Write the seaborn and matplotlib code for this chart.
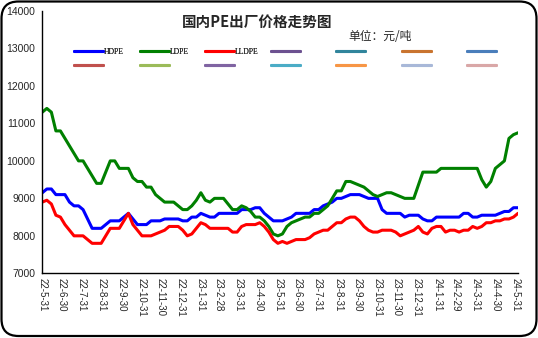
import numpy as np
import pandas as pd
import matplotlib
matplotlib.use("Agg")
import matplotlib.pyplot as plt
import seaborn as sns
from matplotlib.lines import Line2D
from matplotlib.patches import FancyBboxPatch

# ---------------- data ----------------
start_date = "2022-05-31"
n_points = 106

hdpe = [9150, 9250, 9250, 9100, 9100, 9100, 8900, 8800, 8800, 8700,
        8450, 8200, 8200, 8200, 8300, 8400, 8400, 8400, 8500, 8600,
        8450, 8300, 8300, 8300, 8400, 8400, 8400, 8450, 8450, 8450,
        8450, 8400, 8400, 8500, 8500, 8600, 8550, 8500, 8500, 8600,
        8600, 8600, 8600, 8600, 8700, 8700, 8700, 8750, 8750, 8600,
        8500, 8400, 8400, 8400, 8450, 8500, 8600, 8600, 8600, 8600,
        8700, 8700, 8800, 8850, 8900, 9000, 9000, 9050, 9100, 9100,
        9100, 9050, 9000, 9000, 9000, 8700, 8600, 8600, 8600, 8600,
        8500, 8550, 8550, 8550, 8450, 8400, 8400, 8500, 8500, 8500,
        8500, 8500, 8500, 8600, 8600, 8500, 8500, 8550, 8550, 8550,
        8550, 8600, 8650, 8650, 8750, 8750]

ldpe = [11300, 11400, 11300, 10800, 10800, 10600, 10400, 10200, 10000, 10000,
        9800, 9600, 9400, 9400, 9700, 10000, 10000, 9800, 9800, 9800,
        9550, 9450, 9450, 9300, 9300, 9100, 9000, 8900, 8900, 8900,
        8800, 8700, 8700, 8800, 8950, 9150, 8950, 8900, 9000, 9000,
        9000, 8850, 8700, 8700, 8800, 8750, 8650, 8500, 8500, 8400,
        8250, 8050, 8000, 8050, 8250, 8350, 8400, 8450, 8500, 8500,
        8600, 8600, 8700, 8800, 9000, 9200, 9200, 9450, 9450, 9400,
        9350, 9300, 9200, 9100, 9050, 9100, 9150, 9150, 9100, 9050,
        9000, 9000, 9000, 9350, 9700, 9700, 9700, 9700, 9800, 9800,
        9800, 9800, 9800, 9800, 9800, 9800, 9800, 9500, 9300, 9450,
        9800, 9900, 10000, 10600, 10700, 10750]

lldpe = [8900, 8950, 8850, 8550, 8500, 8300, 8150, 8000, 8000, 8000,
         7900, 7800, 7800, 7800, 8000, 8200, 8200, 8200, 8400, 8600,
         8300, 8150, 8000, 8000, 8000, 8050, 8100, 8150, 8250, 8250,
         8250, 8150, 8000, 8050, 8200, 8350, 8300, 8200, 8200, 8200,
         8200, 8200, 8100, 8100, 8250, 8300, 8300, 8300, 8350, 8250,
         8100, 7900, 7800, 7850, 7800, 7850, 7900, 7900, 7900, 7950,
         8050, 8100, 8150, 8150, 8250, 8350, 8350, 8450, 8500, 8500,
         8400, 8250, 8150, 8100, 8100, 8150, 8150, 8150, 8100, 8000,
         8050, 8100, 8150, 8250, 8100, 8050, 8200, 8250, 8250, 8100,
         8150, 8150, 8100, 8150, 8150, 8250, 8200, 8250, 8350, 8350,
         8400, 8400, 8450, 8450, 8500, 8600]

series_names = ["HDPE", "LDPE", "LLDPE"]
series_colors = ["#0000FF", "#008000", "#FF0000"]

tick_labels = ["22-5-31", "22-6-30", "22-7-31", "22-8-31", "22-9-30", "22-10-31",
               "22-11-30", "22-12-31", "23-1-31", "23-2-28", "23-3-31", "23-4-30",
               "23-5-31", "23-6-30", "23-7-31", "23-8-31", "23-9-30", "23-10-31",
               "23-11-30", "23-12-31", "24-1-31", "24-2-29", "24-3-31", "24-4-30",
               "24-5-31"]

y_ticks = [7000, 8000, 9000, 10000, 11000, 12000, 13000, 14000]

title_text = "国内PE出厂价格走势图"
unit_text = "单位：元/吨"

# legend entries: (label, colour) row 1 and row 2 (empty Excel series)
legend_row1 = [("HDPE", "#0000FF"), ("LDPE", "#008000"), ("LLDPE", "#FF0000"),
               ("", "#6C5190"), ("", "#31859C"), ("", "#C9742F"), ("", "#4A7EBB")]
legend_row2 = [("", "#C0504D"), ("", "#9BBB59"), ("", "#8064A2"),
               ("", "#4BACC6"), ("", "#F79646"), ("", "#A8B8D8"), ("", "#D9A7A7")]

# ---------------- frame ----------------
dates = pd.date_range(start_date, periods=n_points, freq="7D")
df = pd.concat([
    pd.DataFrame({"date": dates, "price": vals, "series": name})
    for name, vals in zip(series_names, [hdpe, ldpe, lldpe])
], ignore_index=True)

sns.set_style("white")
plt.rcParams["font.family"] = ["Liberation Sans", "Noto Sans CJK SC", "DejaVu Sans"]

W, H = 538, 338
fig = plt.figure(figsize=(W / 100, H / 100), dpi=100)
fig.patch.set_facecolor("white")

ax = fig.add_axes([42.3 / W, 1 - 273.3 / H, (518 - 42.3) / W, (273.3 - 11) / H])
sns.lineplot(data=df, x="date", y="price", hue="series", hue_order=series_names,
             palette=series_colors, linewidth=2.2, legend=False, ax=ax,
             estimator=None, sort=False)

ax.set_ylim(y_ticks[0], y_ticks[-1])
ax.set_xlim(dates[0], dates[-1])
ax.set_yticks(y_ticks)
ax.set_yticklabels([str(v) for v in y_ticks], fontsize=7.5)

tick_dates = [pd.to_datetime("20" + t, format="%Y-%m-%d") for t in tick_labels]
ax.set_xticks(tick_dates)
ax.set_xticklabels(tick_labels, rotation=-90, fontsize=7, va="top", ha="center")

ax.set_xlabel("")
ax.set_ylabel("")
for s in ["top", "right"]:
    ax.spines[s].set_visible(False)
for s in ["left", "bottom"]:
    ax.spines[s].set_color("black")
    ax.spines[s].set_linewidth(1.0)
ax.tick_params(axis="both", direction="in", length=2.5, width=0.9, color="black")
ax.tick_params(axis="y", pad=5)
ax.tick_params(axis="x", pad=3.5)
ax.set_facecolor("none")
ax.grid(False)

# titles
fig.text(257 / W, 1 - 22 / H, title_text, ha="center", va="center",
         fontsize=10.5, fontweight="bold", family=["Noto Sans CJK SC", "DejaVu Sans"])
fig.text(380 / W, 1 - 37 / H, unit_text, ha="center", va="center",
         fontsize=8.5, family=["Noto Sans CJK SC", "DejaVu Sans"])

# legend: one small legend per column
col_x0 = 74
col_step = 65.5
fs_leg = 5.5
for k, (e1, e2) in enumerate(zip(legend_row1, legend_row2)):
    handles = [Line2D([], [], color=e1[1], lw=2.2), Line2D([], [], color=e2[1], lw=2.2)]
    leg = fig.legend(handles, [e1[0], e2[0]], loc="upper left",
                     bbox_to_anchor=((col_x0 + k * col_step) / W, 1 - 48 / H),
                     frameon=False, borderpad=0, borderaxespad=0,
                     handlelength=3.8, handletextpad=0.15, labelspacing=0.75,
                     prop={"family": "Liberation Serif", "size": fs_leg})
    fig.add_artist(leg)

# rounded outer border
border = FancyBboxPatch((0.015, 0.02), W / 100 - 0.03, H / 100 - 0.035,
                        boxstyle="round,pad=0,rounding_size=0.17",
                        transform=fig.dpi_scale_trans, fill=False,
                        lw=1.6, ec="black")
fig.add_artist(border)

fig.savefig("out.png", dpi=100)
